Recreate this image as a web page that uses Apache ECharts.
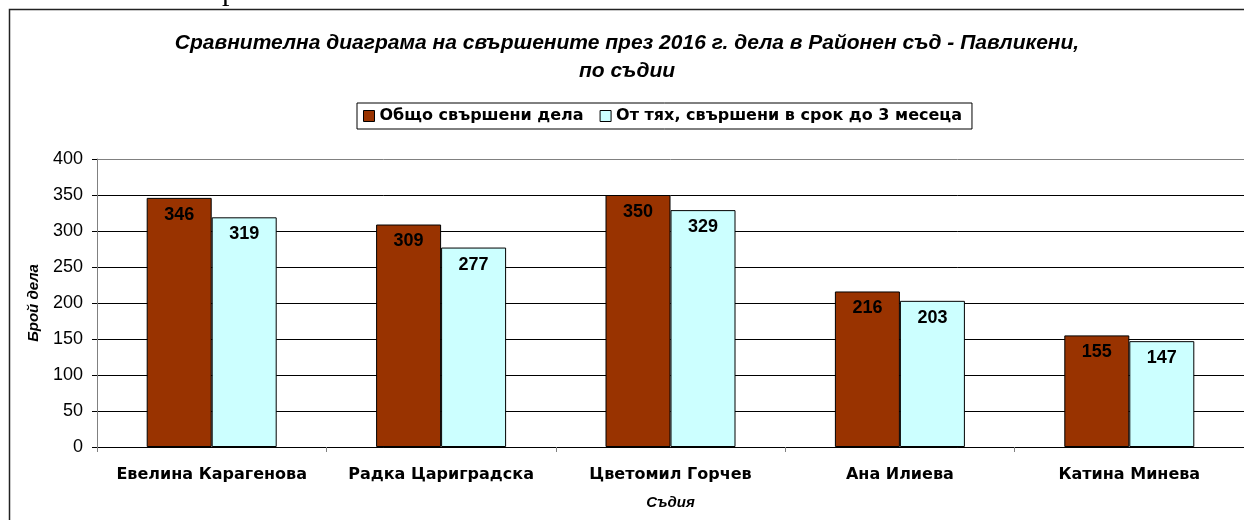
<!DOCTYPE html>
<html>
<head>
<meta charset="utf-8">
<script src="https://cdn.jsdelivr.net/npm/echarts@6/dist/echarts.min.js"></script>
<style>
html,body{margin:0;padding:0;background:#fff;}
#chart{width:1244px;height:520px;}
</style>
</head>
<body>
<div id="chart"></div>
<script>
const titleLines = ['Сравнителна диаграма на свършените през 2016 г. дела в Районен съд - Павликени,', 'по съдии'];
const categories = ['Евелина Карагенова', 'Радка Цариградска', 'Цветомил Горчев', 'Ана Илиева', 'Катина Минева'];
const seriesNames = ['Общо свършени дела', 'От тях, свършени в срок до 3 месеца'];
const totalDone = [346, 309, 350, 216, 155];
const doneIn3Months = [319, 277, 329, 203, 147];
const yTicks = { min: 0, max: 400, interval: 50 };
const yName = 'Брой дела';
const xName = 'Съдия';

const chart = echarts.init(document.getElementById('chart'), null, { renderer: 'canvas' });
const font = 'Arial, "Liberation Sans", sans-serif';
const wide = '"DejaVu Sans", Arial, sans-serif';
const labelCfg = {
  show: true, position: 'insideTop', distance: 8,
  color: '#000', fontFamily: font, fontWeight: 'bold', fontSize: 18
};
chart.setOption({
  backgroundColor: '#fff',
  animation: false,
  graphic: [
    { type: 'rect', shape: { x: 9.5, y: 9.5, width: 1260, height: 540 }, style: { fill: 'none', stroke: '#222', lineWidth: 1.5 }, z: 0 },
    { type: 'text', x: 222, y: 7, style: { text: 'р', font: '30px "Liberation Serif", serif', fill: '#000', verticalAlign: 'bottom' } },
    { type: 'text', x: 627, y: 29, style: { text: titleLines.join('\n'), font: 'italic bold 21px ' + font, lineHeight: 28, fill: '#000', align: 'center', verticalAlign: 'top' } }
  ],
  legend: {
    left: 357, top: 103,
    data: seriesNames,
    icon: 'rect', itemWidth: 11, itemHeight: 11, itemGap: 16, itemStyle: { borderColor: '#000', borderWidth: 1 },
    borderColor: '#000', borderWidth: 1, padding: [5, 10, 5, 6],
    textStyle: { color: '#000', fontFamily: wide, fontWeight: 'bold', fontSize: 16 }
  },
  grid: { left: 97, top: 159, width: 1151, height: 288, containLabel: false },
  xAxis: {
    type: 'category', data: categories,
    name: xName, nameLocation: 'middle', nameGap: 48,
    nameTextStyle: { color: '#000', fontFamily: font, fontStyle: 'italic', fontWeight: 'bold', fontSize: 15 },
    axisLine: { lineStyle: { color: '#000', width: 1 } },
    axisTick: { show: true, interval: 0, length: 5, lineStyle: { color: '#808080' } },
    axisLabel: { interval: 0, color: '#000', fontFamily: wide, fontWeight: 'bold', fontSize: 16, margin: 20 }
  },
  yAxis: {
    type: 'value', min: yTicks.min, max: yTicks.max, interval: yTicks.interval,
    name: yName, nameLocation: 'middle', nameGap: 56, nameRotate: 90,
    nameTextStyle: { color: '#000', fontFamily: font, fontStyle: 'italic', fontWeight: 'bold', fontSize: 15 },
    axisLine: { show: true, lineStyle: { color: '#808080', width: 1 } },
    axisTick: { show: true, length: 5, lineStyle: { color: '#000' } },
    axisLabel: { color: '#000', fontFamily: font, fontSize: 18, margin: 14 },
    splitLine: { show: true, lineStyle: { color: ['#000','#000','#000','#000','#000','#000','#000','#000','#808080'], width: 1 } }
  },
  series: [
    {
      name: seriesNames[0], type: 'bar', data: totalDone,
      barWidth: 65, barGap: '0%',
      itemStyle: { color: '#993300', borderColor: '#000', borderWidth: 1 },
      label: labelCfg
    },
    {
      name: seriesNames[1], type: 'bar', data: doneIn3Months,
      barWidth: 65, barGap: '0%',
      itemStyle: { color: '#CCFFFF', borderColor: '#000', borderWidth: 1 },
      label: labelCfg
    }
  ]
});
</script>
</body>
</html>
